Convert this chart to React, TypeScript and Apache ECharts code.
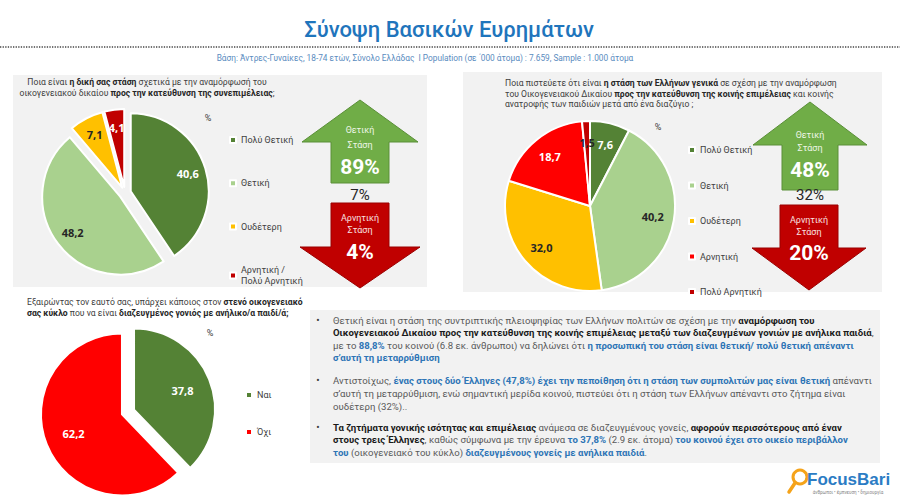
import React, { useEffect, useRef } from 'react';
import * as echarts from 'echarts';

// ---------- data ----------
const q1Categories = ['Πολύ Θετική', 'Θετική', 'Ουδέτερη', 'Αρνητική /\nΠολύ Αρνητική'];
const q1Values = [40.6, 48.2, 7.1, 4.1];
const q2Categories = ['Πολύ Θετική', 'Θετική', 'Ουδέτερη', 'Αρνητική', 'Πολύ Αρνητική'];
const q2Values = [7.6, 40.2, 32.0, 18.7, 1.5];
const q3Categories = ['Ναι', 'Όχι'];
const q3Values = [37.8, 62.2];

const titleText = 'Σύνοψη Βασικών Ευρημάτων';
const baseText = 'Βάση: Άντρες-Γυναίκες, 18-74 ετών, Σύνολο Ελλάδας  I Population (σε ΄000 άτομα) : 7.659, Sample : 1.000 άτομα';

const q1Question = [
  '{n|Ποια είναι }{b|η δική σας στάση}{n| σχετικά με την αναμόρφωσή του}',
  '{n|οικογενειακού δικαίου }{b|προς την κατεύθυνση της συνεπιμέλειας}{n|;}',
];
const q2Question = [
  '{n|Ποια πιστεύετε ότι είναι }{b|η στάση των Ελλήνων γενικά}{n| σε σχέση με την αναμόρφωση}',
  '{n|του Οικογενειακού Δικαίου }{b|προς την κατεύθυνση της κοινής επιμέλειας}{n| και κοινής}',
  '{n|ανατροφής των παιδιών μετά από ένα διαζύγιο ;}',
];
const q3Question = [
  '{n|Εξαιρώντας τον εαυτό σας, υπάρχει κάποιος στον }{b|στενό οικογενειακό}',
  '{b|σας κύκλο}{n| που να είναι }{b|διαζευγμένος γονιός με ανήλικο/α παιδί/ά;}',
];

const bullets = [
  [
    '{n|Θετική είναι η στάση της συντριπτικής πλειοψηφίας των Ελλήνων πολιτών σε σχέση με την }{b|αναμόρφωση του}',
    '{b|Οικογενειακού Δικαίου προς την κατεύθυνση της κοινής επιμέλειας μεταξύ των διαζευγμένων γονιών με ανήλικα παιδιά}{n|,}',
    '{n|με το }{u|88,8%}{n| του κοινού (6.8 εκ. άνθρωποι) να δηλώνει ότι }{u|η προσωπική του στάση είναι θετική/ πολύ θετική απέναντι}',
    '{u|σ’αυτή τη μεταρρύθμιση}',
  ],
  [
    '{n|Αντιστοίχως, }{u|ένας στους δύο Έλληνες (47,8%) έχει την πεποίθηση ότι η στάση των συμπολιτών μας είναι θετική}{n| απέναντι}',
    '{n|σ’αυτή τη μεταρρύθμιση, ενώ σημαντική μερίδα κοινού, πιστεύει ότι η στάση των Ελλήνων απέναντι στο ζήτημα είναι}',
    '{n|ουδέτερη (32%)..}',
  ],
  [
    '{b|Τα ζητήματα γονικής ισότητας και επιμέλειας}{n| ανάμεσα σε διαζευγμένους γονείς, }{b|αφορούν περισσότερους από έναν}',
    '{b|στους τρεις Έλληνες}{n|, καθώς σύμφωνα με την έρευνα }{u|το 37,8%}{n| (2.9 εκ. άτομα) }{u|του κοινού έχει στο οικείο περιβάλλον}',
    '{u|του}{n| (οικογενειακό του κύκλο) }{u|διαζευγμένους γονείς με ανήλικα παιδιά}{n|.}',
  ],
];

// ---------- styles ----------
const q1Colors = ['#548235', '#a9d18e', '#ffc000', '#c00000'];
const q1LabelColors = ['#ffffff', '#262626', '#262626', '#ffffff'];
const q2Colors = ['#548235', '#a9d18e', '#ffc000', '#ff0000', '#c00000'];
const q2LabelColors = ['#ffffff', '#262626', '#262626', '#ffffff', '#262626'];
const q3Colors = ['#548235', '#ff0000'];
const q3LabelColors = ['#ffffff', '#ffffff'];

const FAM = 'Roboto';
const FONT = 'Roboto, "Noto Sans", sans-serif';

const fmt = (v: number) => v.toFixed(1).replace('.', ',');

function pieSeries(
  names: string[], values: number[], colors: string[], labelColors: string[],
  center: number[], radius: number, offset: number, push: number,
) {
  return {
    type: 'pie',
    center,
    radius,
    startAngle: 90,
    clockwise: true,
    selectedMode: offset > 0 ? 'multiple' : false,
    selectedOffset: offset,
    avoidLabelOverlap: false,
    data: names.map((name, i) => ({
      name,
      value: values[i],
      selected: offset > 0,
      itemStyle: { color: colors[i] },
      label: { color: labelColors[i] },
    })),
    itemStyle: { borderColor: '#ffffff', borderWidth: 2 },
    label: {
      show: true,
      position: 'inside',
      formatter: (p: any) => fmt(p.value),
      fontSize: 11,
      fontWeight: 'bold',
      fontFamily: '"Open Sans", sans-serif',
    },
    labelLine: { show: false },
    emphasis: { disabled: true },
    select: { itemStyle: { borderColor: '#ffffff', borderWidth: 2 } },
    labelLayout: (p: any) => {
      const r = p.labelRect;
      const lx = r.x + r.width / 2;
      const ly = r.y + r.height / 2;
      return { dx: (lx - center[0]) * push, dy: (ly - center[1]) * push };
    },
  };
}

function legendOf(names: string[], left: number, top: number, gap: number) {
  return {
    data: names,
    orient: 'vertical',
    left,
    top,
    itemGap: gap,
    itemWidth: 6,
    itemHeight: 6,
    icon: 'rect',
    selectedMode: false,
    textStyle: { fontSize: 9, color: '#404040', fontFamily: FONT, lineHeight: 11 },
  };
}

type Palette = { n: string; b: string; u: string };
const qPal: Palette = { n: '#404040', b: '#262626', u: '#2e75b6' };
const tPal: Palette = { n: '#595959', b: '#1a1a1a', u: '#2e75b6' };
const Q_SIZE = 8.6;
const T_SIZE = 9.6;

let measureCtx: CanvasRenderingContext2D | null = null;
function measure(text: string, size: number, weight: string) {
  if (!measureCtx) measureCtx = document.createElement('canvas').getContext('2d');
  if (!measureCtx) return text.length * size * 0.5;
  measureCtx.font = `${weight} ${size}px ${FAM}`;
  return measureCtx.measureText(text).width;
}

function parseSegments(line: string) {
  const out: { k: string; t: string }[] = [];
  const re = /\{(\w)\|([^}]*)\}/g;
  let m: RegExpExecArray | null;
  while ((m = re.exec(line))) out.push({ k: m[1], t: m[2] });
  return out;
}

function segLines(lines: string[], x: number, y0: number, dy: number, align: string, size: number, pal: Palette) {
  const els: any[] = [];
  lines.forEach((line, i) => {
    const segs = parseSegments(line).map((s) => {
      const weight = s.k === 'n' ? 'normal' : 'bold';
      return { ...s, weight, w: measure(s.t, size, weight) };
    });
    const total = segs.reduce((a, s) => a + s.w, 0);
    let cx = align === 'center' ? x - total / 2 : x;
    segs.forEach((s) => {
      els.push({
        type: 'text', x: cx, y: y0 + i * dy, z: 5,
        style: {
          text: s.t, fontSize: size, fontFamily: FAM, fontWeight: s.weight,
          fill: (pal as any)[s.k], align: 'left', verticalAlign: 'middle',
        },
      });
      cx += s.w;
    });
  });
  return els;
}

function upArrow(cx: number, tip: number, head: number, bottom: number, hh: number, sh: number, fill: string, stroke: string) {
  return {
    type: 'polygon', z: 1,
    shape: { points: [[cx, tip], [cx + hh, head], [cx + sh, head], [cx + sh, bottom], [cx - sh, bottom], [cx - sh, head], [cx - hh, head]] },
    style: { fill, stroke, lineWidth: 1 },
  };
}
function downArrow(cx: number, top: number, head: number, tip: number, hh: number, sh: number, fill: string, stroke: string) {
  return {
    type: 'polygon', z: 1,
    shape: { points: [[cx - sh, top], [cx + sh, top], [cx + sh, head], [cx + hh, head], [cx, tip], [cx - hh, head], [cx - sh, head]] },
    style: { fill, stroke, lineWidth: 1 },
  };
}
function txt(text: string, x: number, y: number, size: number, fill: string, weight = 'normal', align = 'center', family = FONT) {
  return {
    type: 'text', x, y, z: 6,
    style: { text, fontSize: size, fill, fontWeight: weight, align, verticalAlign: 'middle', fontFamily: family },
  };
}

export default function App() {
  const ref = useRef<HTMLDivElement>(null);
  useEffect(() => {
    if (!ref.current) return;
    const chart = echarts.init(ref.current, undefined, { renderer: 'svg' });

    const s1 = [Math.round(q1Values[0] + q1Values[1]), Math.round(q1Values[2]), Math.round(q1Values[3])];
    const s2 = [Math.round(q2Values[0] + q2Values[1]), Math.round(q2Values[2]), Math.round(q2Values[3] + q2Values[4])];

    const graphics: any[] = [
      // panels
      { type: 'rect', z: 0, shape: { x: 13, y: 75, width: 414, height: 212 }, style: { fill: '#f2f2f2' } },
      { type: 'rect', z: 0, shape: { x: 463, y: 72, width: 419, height: 220 }, style: { fill: '#f2f2f2' } },
      { type: 'rect', z: 0, shape: { x: 310, y: 310, width: 570, height: 153 }, style: { fill: '#f2f2f2' } },
      // header
      txt(titleText, 449, 29, 22, '#1f75bc', '500'),
      { type: 'line', z: 1, shape: { x1: 0, y1: 47, x2: 900, y2: 47 }, style: { stroke: '#444444', lineWidth: 1.6, lineDash: [1.3, 1.3] } },
      txt(baseText, 425, 58, 8.3, '#5a8cc0'),
      // questions
      ...segLines(q1Question, 147, 82, 11, 'center', Q_SIZE, qPal),
      ...segLines(q2Question, 505, 83, 10.5, 'left', Q_SIZE, qPal),
      ...segLines(q3Question, 27, 302, 11, 'left', Q_SIZE, qPal),
      // percent signs
      txt('%', 208, 118, 9, '#404040'),
      txt('%', 658, 127, 9, '#404040'),
      txt('%', 210, 333, 9, '#404040'),
      // arrows left
      upArrow(360, 100, 142, 183, 58, 29, '#70ad47', '#5a8f38'),
      downArrow(360, 203, 247, 288, 60, 29, '#c00000', '#9a0000'),
      txt('Θετική', 360, 130, 9, '#eef6e8'),
      txt('Στάση', 360, 145, 9, '#eef6e8'),
      txt(s1[0] + '%', 360, 167, 21, '#ffffff', 'bold'),
      txt(s1[1] + '%', 360, 195, 15, '#262626'),
      txt('Αρνητική', 360, 218, 9, '#f8e0e0'),
      txt('Στάση', 360, 230, 9, '#f8e0e0'),
      txt(s1[2] + '%', 360, 252, 21, '#ffffff', 'bold'),
      // arrows right
      upArrow(810, 102, 145, 190, 57, 28, '#70ad47', '#5a8f38'),
      downArrow(809, 205, 248, 290, 57, 29, '#c00000', '#9a0000'),
      txt('Θετική', 810, 135, 9, '#eef6e8'),
      txt('Στάση', 810, 148, 9, '#eef6e8'),
      txt(s2[0] + '%', 810, 170, 21, '#ffffff', 'bold'),
      txt(s2[1] + '%', 810, 195, 15, '#262626'),
      txt('Αρνητική', 809, 220, 9, '#f8e0e0'),
      txt('Στάση', 809, 232, 9, '#f8e0e0'),
      txt(s2[2] + '%', 809, 253, 21, '#ffffff', 'bold'),
      // logo
      { type: 'circle', z: 5, shape: { cx: 800, cy: 477, r: 7 }, style: { fill: 'none', stroke: '#f5a31a', lineWidth: 3 } },
      { type: 'line', z: 5, shape: { x1: 795, y1: 483, x2: 789, y2: 492 }, style: { stroke: '#f5a31a', lineWidth: 3.5, lineCap: 'round' } },
      txt('FocusBari', 807, 479, 17, '#2b7cc4', 'bold', 'left', '"Liberation Sans", Arial, sans-serif'),
      txt('άνθρωποι • έμπνευση • δημιουργία', 848, 492, 4.5, '#888888'),
    ];

    // bullets text box
    const bulletStarts = [320, 380, 427];
    const bulletGap = [12.6, 13, 12.5];
    bullets.forEach((lines, bi) => {
      graphics.push(txt('•', 318, bulletStarts[bi], 10, '#404040'));
      graphics.push(...segLines(lines, 333, bulletStarts[bi], bulletGap[bi], 'left', T_SIZE, tPal));
    });

    chart.setOption({
      animation: false,
      backgroundColor: '#ffffff',
      legend: [
        legendOf(q1Categories, 224, 129.5, 32.3),
        legendOf(q2Categories, 683, 139.5, 24.5),
        legendOf(q3Categories, 240, 384.5, 26),
      ],
      series: [
        pieSeries(q1Categories, q1Values, q1Colors, q1LabelColors, [125, 193], 78, 6, 0.42),
        pieSeries(q2Categories, q2Values, q2Colors, q2LabelColors, [590, 206], 85, 0, 0.4),
        pieSeries(q3Categories, q3Values, q3Colors, q3LabelColors, [128, 412], 81, 6.5, 0.2),
      ],
      graphic: { elements: graphics },
    });
    return () => chart.dispose();
  }, []);
  return <div ref={ref} style={{ position: 'fixed', left: 0, top: 0, width: 900, height: 501 }} />;
}
